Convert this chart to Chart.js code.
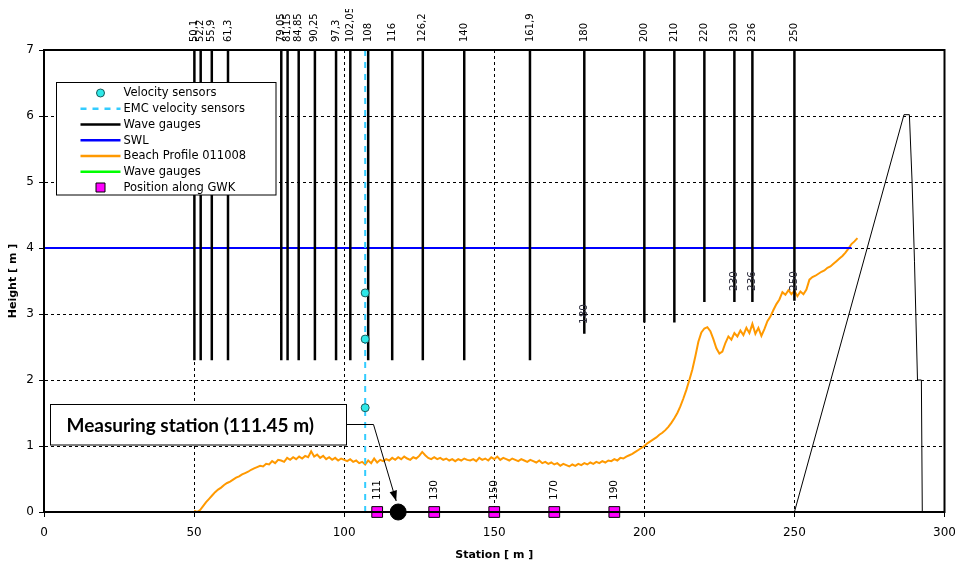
<!DOCTYPE html>
<html>
<head>
<meta charset="utf-8">
<script src="https://cdn.jsdelivr.net/npm/chart.js@4.4.1/dist/chart.umd.min.js"></script>
<style>
  html, body { margin: 0; padding: 0; background: #fff; }
</style>
</head>
<body>
<canvas id="myChart" width="955" height="562"></canvas>
<script>
// wave gauge positions along the flume, their label and lower end
const gaugeStations = [50.1, 52.2, 55.9, 61.3, 79.05, 81.15, 84.85, 90.25, 97.3, 102.05, 108, 116, 126.2, 140, 161.9, 180, 200, 210, 220, 230, 236, 250];
const gaugeLabels = ["50,1", "52,2", "55,9", "61,3", "79,05", "81,15", "84,85", "90,25", "97,3", "102,05", "108", "116", "126,2", "140", "161,9", "180", "200", "210", "220", "230", "236", "250"];
const gaugeBottoms = [2.3, 2.3, 2.3, 2.3, 2.3, 2.3, 2.3, 2.3, 2.3, 2.3, 2.3, 2.3, 2.3, 2.3, 2.3, 2.7, 2.87, 2.87, 3.18, 3.18, 3.18, 3.2];
const gaugeTop = 7;

// second wave gauge series (only its labels show)
const greenStations = [180, 230, 236, 250];
const greenHeights = [3.0, 3.5, 3.5, 3.5];
const greenLabels = ["180", "230", "236", "250"];

// velocity sensors
const velocityStation = 107;
const velocityHeights = [3.32, 2.62, 1.58];
const emcHeights = [0, 7];

// still water level
const swlStations = [0, 269];
const swlLevel = 4;

// beach profile 011008, one value per metre from station 50
const profileStart = 50;
const profileHeights = [
  0.02, 0.00, 0.03, 0.09, 0.15, 0.20, 0.25, 0.30, 0.34, 0.37,
  0.41, 0.44, 0.46, 0.49, 0.52, 0.54, 0.57, 0.59, 0.61, 0.64,
  0.66, 0.68, 0.70, 0.69, 0.73, 0.72, 0.77, 0.74, 0.79, 0.78,
  0.76, 0.82, 0.79, 0.83, 0.80, 0.84, 0.81, 0.85, 0.83, 0.92,
  0.84, 0.87, 0.82, 0.85, 0.80, 0.83, 0.79, 0.82, 0.78, 0.81,
  0.79, 0.77, 0.80, 0.76, 0.78, 0.74, 0.76, 0.72, 0.78, 0.74,
  0.81, 0.75, 0.79, 0.77, 0.80, 0.78, 0.82, 0.79, 0.83, 0.80,
  0.84, 0.81, 0.79, 0.83, 0.81, 0.85, 0.91, 0.86, 0.82, 0.80,
  0.83, 0.80, 0.82, 0.79, 0.81, 0.78, 0.80, 0.77, 0.80, 0.78,
  0.81, 0.79, 0.78, 0.80, 0.77, 0.82, 0.79, 0.81, 0.78, 0.83,
  0.80, 0.84, 0.79, 0.82, 0.80, 0.78, 0.81, 0.79, 0.77, 0.80,
  0.78, 0.76, 0.79, 0.77, 0.75, 0.78, 0.74, 0.76, 0.73, 0.75,
  0.72, 0.74, 0.70, 0.73, 0.71, 0.69, 0.72, 0.70, 0.73, 0.71,
  0.74, 0.72, 0.75, 0.73, 0.76, 0.74, 0.77, 0.75, 0.78, 0.77,
  0.80, 0.78, 0.82, 0.81, 0.84, 0.86, 0.88, 0.91, 0.94, 0.97,
  1.00, 1.04, 1.07, 1.10, 1.13, 1.17, 1.20, 1.24, 1.29, 1.35,
  1.42, 1.50, 1.60, 1.72, 1.85, 2.00, 2.16, 2.36, 2.58, 2.72,
  2.78, 2.80, 2.74, 2.62, 2.48, 2.40, 2.43, 2.56, 2.66, 2.61,
  2.71, 2.66, 2.75, 2.68, 2.79, 2.71, 2.85, 2.70, 2.79, 2.67,
  2.77, 2.89, 2.96, 3.06, 3.15, 3.22, 3.33, 3.29, 3.36, 3.30,
  3.35, 3.27, 3.34, 3.30, 3.37, 3.52, 3.56, 3.58, 3.61, 3.64,
  3.66, 3.70, 3.72, 3.76, 3.80, 3.84, 3.88, 3.93, 3.99, 4.06,
  4.10, 4.15
];

// positions along GWK
const gwkStations = [111, 130, 150, 170, 190];
const gwkLabels = ["111", "130", "150", "170", "190"];

// measuring station marker
const measuringStation = 118;
const measuringText = "Measuring station (111.45 m)";

// wave paddle outline at the right end
const paddleStations = [250, 286.5, 288.3, 289.2, 290.0, 291.0, 292.3, 292.6];
const paddleHeights = [0, 6.02, 6.02, 5.0, 3.8, 2.0, 2.0, 0];

const xTicks = [0, 50, 100, 150, 200, 250, 300];

function gaugeSegments() {
    let pts = [];
    for (let i = 0; i < gaugeStations.length; i++) {
        pts.push({x: gaugeStations[i], y: gaugeTop});
        pts.push({x: gaugeStations[i], y: gaugeBottoms[i]});
        pts.push({x: gaugeStations[i], y: null});
    }
    return pts;
}

const datasets = [
    {
        label: 'Velocity sensors', inLegend: true,
        data: velocityHeights.map(h => ({x: velocityStation, y: h})),
        showLine: false, pointRadius: 4, pointStyle: 'circle',
        backgroundColor: '#2EE8E8', borderColor: '#1B5A5A', borderWidth: 1
    },
    {
        label: 'EMC velocity sensors', inLegend: true,
        data: emcHeights.map(h => ({x: velocityStation, y: h})),
        borderColor: '#33CCFF', borderWidth: 2, borderDash: [6, 6], pointRadius: 0
    },
    {
        label: 'Wave gauges', inLegend: true,
        data: gaugeSegments(),
        borderColor: '#000000', borderWidth: 2.5, pointRadius: 0, spanGaps: false
    },
    {
        label: 'SWL', inLegend: true,
        data: swlStations.map(s => ({x: s, y: swlLevel})),
        borderColor: '#0000FF', borderWidth: 2, pointRadius: 0
    },
    {
        label: 'Beach Profile 011008', inLegend: true,
        data: profileHeights.map((h, i) => ({x: profileStart + i, y: h})),
        borderColor: '#FF9900', borderWidth: 2, pointRadius: 0
    },
    {
        label: 'Wave gauges', inLegend: true,
        data: greenStations.map((s, i) => ({x: s, y: greenHeights[i]})),
        borderColor: '#00FF00', borderWidth: 2, pointRadius: 0, showLine: false
    },
    {
        label: 'Position along GWK', inLegend: true,
        data: gwkStations.map(s => ({x: s, y: 0})),
        showLine: false, pointStyle: 'rect', pointRadius: 7.6,
        backgroundColor: '#FF00FF', borderColor: '#000000', borderWidth: 1, clip: false
    },
    {
        label: 'Measuring station',
        data: [{x: measuringStation, y: 0}],
        showLine: false, pointRadius: 8, pointStyle: 'circle',
        backgroundColor: '#000000', borderColor: '#000000', borderWidth: 1, clip: false
    },
    {
        label: 'Paddle',
        data: paddleStations.map((s, i) => ({x: s, y: paddleHeights[i]})),
        borderColor: '#000000', borderWidth: 1, pointRadius: 0
    }
];

function rotatedText(ctx, text, x, y, align) {
    ctx.save();
    ctx.translate(x, y);
    ctx.rotate(-Math.PI / 2);
    ctx.textAlign = align;
    ctx.textBaseline = 'middle';
    ctx.fillText(text, 0, 0);
    ctx.restore();
}

const extras = {
    id: 'extras',
    afterDatasetsDraw(chart) {
        const ctx = chart.ctx;
        const area = chart.chartArea;
        const xs = chart.scales.x, ys = chart.scales.y;

        // frame
        ctx.save();
        ctx.strokeStyle = '#000';
        ctx.lineWidth = 2;
        ctx.strokeRect(area.left, area.top, area.right - area.left, area.bottom - area.top);
        ctx.restore();

        // gauge labels above the plot (clipped like in the original)
        ctx.save();
        ctx.beginPath();
        ctx.rect(0, 9, chart.width, area.top - 9);
        ctx.clip();
        ctx.fillStyle = '#000';
        ctx.font = '10px "DejaVu Sans"';
        gaugeStations.forEach((s, i) => {
            rotatedText(ctx, gaugeLabels[i], xs.getPixelForValue(s), area.top - 8, 'left');
        });
        ctx.restore();

        // labels of the second gauge series
        ctx.save();
        ctx.fillStyle = '#2a2a3a';
        ctx.font = '10.5px "DejaVu Sans"';
        greenStations.forEach((s, i) => {
            rotatedText(ctx, greenLabels[i], xs.getPixelForValue(s), ys.getPixelForValue(greenHeights[i]), 'center');
        });
        // labels above GWK positions
        ctx.fillStyle = '#000';
        gwkStations.forEach((s, i) => {
            rotatedText(ctx, gwkLabels[i], xs.getPixelForValue(s), ys.getPixelForValue(0) - 22, 'center');
        });
        ctx.restore();

        // legend
        const lg = {left: 56.5, top: 82.5, width: 219.5, height: 112.5, row: 15.75};
        ctx.save();
        ctx.fillStyle = '#fff';
        ctx.fillRect(lg.left, lg.top, lg.width, lg.height);
        ctx.strokeStyle = '#000';
        ctx.lineWidth = 1;
        ctx.strokeRect(lg.left, lg.top, lg.width, lg.height);
        ctx.font = '11.5px "DejaVu Sans"';
        ctx.textBaseline = 'middle';
        let row = 0;
        chart.data.datasets.forEach(ds => {
            if (!ds.inLegend) return;
            const y = lg.top + 10.5 + row * lg.row;
            if (ds.showLine === false && ds.pointRadius > 0) {
                ctx.fillStyle = ds.backgroundColor;
                ctx.strokeStyle = ds.borderColor;
                ctx.lineWidth = 1;
                ctx.beginPath();
                if (ds.pointStyle === 'rect') {
                    ctx.rect(96, y - 4.5, 9, 9);
                } else {
                    ctx.arc(100.5, y, 4, 0, Math.PI * 2);
                }
                ctx.fill();
                ctx.stroke();
            } else {
                ctx.strokeStyle = ds.borderColor;
                ctx.lineWidth = ds.borderWidth >= 2 ? 2.5 : ds.borderWidth;
                ctx.setLineDash(ds.borderDash || []);
                ctx.beginPath();
                ctx.moveTo(80.5, y);
                ctx.lineTo(120.5, y);
                ctx.stroke();
                ctx.setLineDash([]);
            }
            ctx.fillStyle = '#000';
            ctx.fillText(ds.label, 123.5, y + 0.5);
            row++;
        });
        ctx.restore();

        // measuring station call-out
        const box = {left: 50.5, top: 404.5, width: 296, height: 40.5};
        const dotX = xs.getPixelForValue(measuringStation);
        const dotY = ys.getPixelForValue(0);
        ctx.save();
        ctx.fillStyle = '#fff';
        ctx.fillRect(box.left, box.top, box.width, box.height);
        ctx.strokeStyle = '#000';
        ctx.lineWidth = 1;
        ctx.strokeRect(box.left, box.top, box.width, box.height);
        let size = 19;
        ctx.font = 'bold ' + size + 'px Lato';
        while (ctx.measureText(measuringText).width > 258 && size > 10) {
            size -= 0.5;
            ctx.font = 'bold ' + size + 'px Lato';
        }
        ctx.fillStyle = '#000';
        ctx.textBaseline = 'middle';
        ctx.fillText(measuringText, 66.5, box.top + box.height / 2 + 1);

        const elbowX = box.left + box.width + 27;
        const elbowY = box.top + 20;
        const tipX = dotX - 2, tipY = dotY - 11;
        ctx.beginPath();
        ctx.moveTo(box.left + box.width, elbowY);
        ctx.lineTo(elbowX, elbowY);
        ctx.lineTo(tipX, tipY);
        ctx.stroke();
        const ang = Math.atan2(tipY - elbowY, tipX - elbowX);
        ctx.beginPath();
        ctx.moveTo(tipX, tipY);
        ctx.lineTo(tipX - 11 * Math.cos(ang - 0.35), tipY - 11 * Math.sin(ang - 0.35));
        ctx.lineTo(tipX - 11 * Math.cos(ang + 0.35), tipY - 11 * Math.sin(ang + 0.35));
        ctx.closePath();
        ctx.fill();
        ctx.restore();
    }
};

function gridColor(edgeValues) {
    return function(c) {
        if (c.tick && edgeValues.indexOf(c.tick.value) >= 0) return 'rgba(0,0,0,0)';
        return '#000';
    };
}

new Chart(document.getElementById('myChart'), {
    type: 'line',
    data: {datasets: datasets},
    options: {
        responsive: false,
        animation: false,
        events: [],
        layout: {padding: {top: 50, right: 10.5, left: 0, bottom: 0}},
        plugins: {
            legend: {display: false},
            tooltip: {enabled: false}
        },
        scales: {
            x: {
                type: 'linear',
                min: 0, max: 300,
                afterBuildTicks: axis => { axis.ticks = xTicks.map(v => ({value: v})); },
                afterFit: scale => {
                    scale.height = 50;
                    scale.paddingLeft = 0;
                    scale.paddingRight = 0;
                },
                ticks: {
                    color: '#000', padding: 9, maxRotation: 0,
                    font: {family: 'DejaVu Sans', size: 12}
                },
                grid: {color: gridColor([0, 300]), lineWidth: 1, tickLength: 5, tickColor: '#000', tickWidth: 1},
                border: {display: true, color: '#000', width: 2, dash: [3, 3]},
                title: {
                    display: true, text: 'Station [ m ]', color: '#000',
                    font: {family: 'DejaVu Sans', size: 11, weight: 'bold'},
                    padding: {top: 0, bottom: 0}
                }
            },
            y: {
                type: 'linear',
                min: 0, max: 7,
                afterFit: scale => {
                    scale.width = 44;
                    scale.paddingTop = 0;
                    scale.paddingBottom = 0;
                },
                ticks: {
                    stepSize: 1, color: '#000', padding: 5,
                    font: {family: 'DejaVu Sans', size: 12}
                },
                grid: {color: gridColor([0, 7]), lineWidth: 1, tickLength: 5, tickColor: '#000', tickWidth: 1},
                border: {display: true, color: '#000', width: 2, dash: [3, 3]},
                title: {
                    display: true, text: 'Height [ m ]', color: '#000',
                    font: {family: 'DejaVu Sans', size: 11, weight: 'bold'},
                    padding: {top: 7, bottom: 0}
                }
            }
        }
    },
    plugins: [extras]
});
</script>
</body>
</html>
